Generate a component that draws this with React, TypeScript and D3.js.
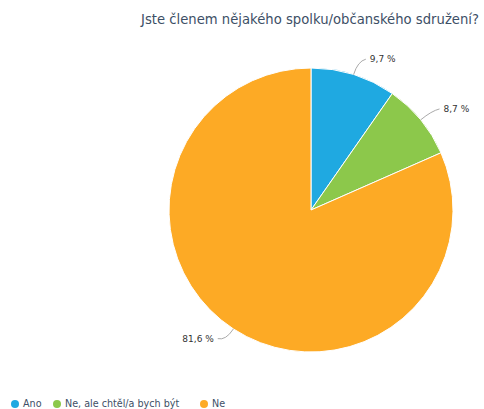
import React from "react";
import * as d3 from "d3";

const categories = ["Ano", "Ne, ale chtěl/a bych být", "Ne"];
const values = [9.7, 8.7, 81.6];
const labels = ["9,7 %", "8,7 %", "81,6 %"];
const colors = ["#1fa9e1", "#8cc84b", "#fdaa25"];
const title = "Jste členem nějakého spolku/občanského sdružení?";

export default function App() {
  const W = 484, H = 409;
  const cx = 311, cy = 210, r = 142;
  const pie = d3.pie<number>().sort(null).value((d) => d)(values);
  const arc = d3.arc<d3.PieArcDatum<number>>().innerRadius(0).outerRadius(r);
  const legendX = [15, 57, 204];
  const font = "DejaVu Sans, sans-serif";
  return (
    <svg width={W} height={H} style={{ position: "absolute", left: 0, top: 0, background: "#fff" }} fontFamily={font}>
      <text x={310} y={24} textAnchor="middle" fontSize={13.2} fill="#3d4f66">{title}</text>
      <g transform={`translate(${cx},${cy})`}>
        {pie.map((p, i) => (
          <path key={i} d={arc(p) || ""} fill={colors[i]} stroke="#fff" strokeWidth={1} />
        ))}
        {pie.map((p, i) => {
          const a = (p.startAngle + p.endAngle) / 2;
          const sx = Math.sin(a), sy = -Math.cos(a);
          const x0 = sx * r, y0 = sy * r;
          const x1 = sx * (r + 14), y1 = sy * (r + 14);
          const dir = sx >= 0 ? 1 : -1;
          const x2 = x1 + dir * 8;
          const y2 = y1 - 2;
          const path = `M${x0},${y0} Q${x1},${y1} ${x2},${y2}`;
          return (
            <g key={"l" + i}>
              <path d={path} fill="none" stroke="#aaa" strokeWidth={1} />
              <text x={x2 + dir * 4} y={y2} dy="0.35em" textAnchor={dir > 0 ? "start" : "end"} fontSize={9} fill="#333">
                {labels[i]}
              </text>
            </g>
          );
        })}
      </g>
      <g>
        {categories.map((c, i) => (
          <g key={c}>
            <circle cx={legendX[i]} cy={404} r={4} fill={colors[i]} />
            <text x={legendX[i] + 8} y={404} dy="0.35em" fontSize={9.6} fill="#3d4f66">{c}</text>
          </g>
        ))}
      </g>
    </svg>
  );
}
